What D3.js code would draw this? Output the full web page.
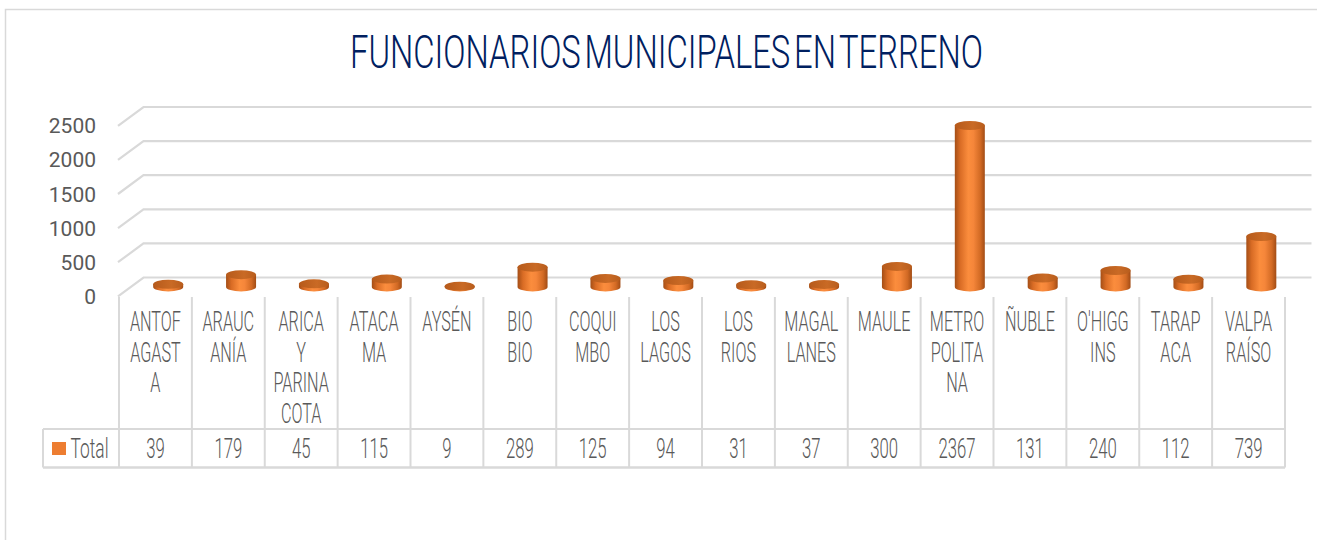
<!DOCTYPE html>
<html>
<head>
<meta charset="utf-8">
<script src="https://cdn.jsdelivr.net/npm/d3@7"></script>
<style>
  body { margin: 0; background: #fff; }
  text { font-family: Roboto, "Liberation Sans", sans-serif; }
</style>
</head>
<body>
<div id="chart"></div>
<script>
// ##################################
// Funcionarios municipales en terreno
// ##################################

// Data
const categories = ["ANTOFAGASTA", "ARAUCANÍA", "ARICA Y PARINACOTA", "ATACAMA", "AYSÉN", "BIO BIO",
    "COQUIMBO", "LOS LAGOS", "LOS RIOS", "MAGALLANES", "MAULE", "METROPOLITANA", "ÑUBLE",
    "O'HIGGINS", "TARAPACA", "VALPARAÍSO"];
// wrapped tick labels as they appear in the data table
const categoryLines = [["ANTOF", "AGAST", "A"], ["ARAUC", "ANÍA"], ["ARICA", "Y", "PARINA", "COTA"],
    ["ATACA", "MA"], ["AYSÉN"], ["BIO", "BIO"], ["COQUI", "MBO"], ["LOS", "LAGOS"], ["LOS", "RIOS"],
    ["MAGAL", "LANES"], ["MAULE"], ["METRO", "POLITA", "NA"], ["ÑUBLE"], ["O'HIGG", "INS"],
    ["TARAP", "ACA"], ["VALPA", "RAÍSO"]];
const values = [39, 179, 45, 115, 9, 289, 125, 94, 31, 37, 300, 2367, 131, 240, 112, 739];
const yTicks = [0, 500, 1000, 1500, 2000, 2500];
const seriesName = "Total";
const title = "FUNCIONARIOS MUNICIPALES EN TERRENO";

// Sizes
const w = 1317;
const h = 540;
const x_left = 119;
const x_right = 1285;
const depth_dx = 25.5;   // 3d depth offset
const depth_dy = -18.8;
const grid = "#d9d9d9";
const textGray = "#595959";
const orange = "#ED7D31";

let svg = d3.select("#chart")
    .append("svg")
    .attr("width", w)
    .attr("height", h);

// chart frame
svg.append("rect")
    .attr("x", 5.5).attr("y", 9.5)
    .attr("width", w + 20).attr("height", h + 20)
    .attr("fill", "#fff")
    .attr("stroke", grid)
    .attr("stroke-width", 1.5);

// Title
svg.append("text")
    .attr("x", 350)
    .attr("y", 68)
    .attr("font-size", 46)
    .attr("font-weight", 300)
    .attr("word-spacing", -6)
    .attr("fill", "#002060")
    .attr("textLength", 633)
    .attr("lengthAdjust", "spacingAndGlyphs")
    .text(title);

// Scales
const xScale = d3.scaleBand()
    .domain(categories)
    .range([x_left, x_right])
    .paddingInner(0)
    .paddingOuter(0);
const bw = xScale.bandwidth();

// front edge of the floor / walls
const yScale = d3.scaleLinear()
    .domain([0, 2500])
    .range([296.3, 125.8]);

// middle depth, where the cylinders stand
const yMid = d3.scaleLinear()
    .domain([0, 2500])
    .range([296.3 + depth_dy / 2, 125.8 + depth_dy / 2]);

// Gridlines (side wall diagonal + back wall)
const gridG = svg.append("g");
yTicks.forEach(t => {
    const yf = yScale(t);
    const pts = [[x_left - 1, yf], [x_left - 1 + depth_dx, yf + depth_dy], [x_right + depth_dx + 1, yf + depth_dy]];
    gridG.append("path")
        .attr("d", d3.line()(pts))
        .attr("fill", "none")
        .attr("stroke", grid)
        .attr("stroke-width", 2.2);
});

// Y axis labels
svg.append("g")
    .selectAll("text")
    .data(yTicks)
    .join("text")
    .attr("x", 96)
    .attr("y", d => yScale(d) + 7.5)
    .attr("text-anchor", "end")
    .attr("font-family", "'Liberation Sans', Arial, sans-serif")
    .attr("font-size", 21)
    .attr("fill", textGray)
    .text(d => d);

// Cylinders
const defs = svg.append("defs");
const grad = defs.append("linearGradient")
    .attr("id", "cylBody")
    .attr("x1", "0%").attr("x2", "100%")
    .attr("y1", "0%").attr("y2", "0%");
[["0%", "#a44e16"], ["18%", "#d96c25"], ["45%", "#fb8d3d"], ["62%", "#f5863a"], ["85%", "#d26a24"], ["100%", "#a24c15"]]
    .forEach(s => grad.append("stop").attr("offset", s[0]).attr("stop-color", s[1]));

const topGrad = defs.append("linearGradient")
    .attr("id", "cylTop")
    .attr("x1", "0%").attr("x2", "100%");
[["0%", "#b65a1b"], ["60%", "#c96a25"], ["100%", "#b85d1d"]]
    .forEach(s => topGrad.append("stop").attr("offset", s[0]).attr("stop-color", s[1]));

const rx = 15;
const ry = 4.5;
const data = categories.map((c, i) => ({cat: c, value: values[i]}));

const cyl = svg.append("g")
    .selectAll("g")
    .data(data)
    .join("g");

cyl.append("path")
    .attr("d", d => {
        const cx = xScale(d.cat) + bw / 2 + depth_dx / 2;
        const yb = yMid(0);
        const yt = yMid(d.value);
        return "M" + (cx - rx) + "," + yt +
            " L" + (cx - rx) + "," + yb +
            " A" + rx + "," + ry + " 0 0 0 " + (cx + rx) + "," + yb +
            " L" + (cx + rx) + "," + yt + " Z";
    })
    .attr("fill", "url(#cylBody)");

cyl.append("ellipse")
    .attr("cx", d => xScale(d.cat) + bw / 2 + depth_dx / 2)
    .attr("cy", d => yMid(d.value))
    .attr("rx", rx)
    .attr("ry", ry)
    .attr("fill", "url(#cylTop)");

// Data table
const table_top = 429;
const table_bottom = 467.5;
const table_left = 43;
const tableG = svg.append("g")
    .attr("stroke", grid)
    .attr("stroke-width", 2);

tableG.append("line")
    .attr("x1", table_left).attr("x2", x_right)
    .attr("y1", table_top).attr("y2", table_top);
tableG.append("line")
    .attr("x1", table_left).attr("x2", x_right)
    .attr("y1", table_bottom).attr("y2", table_bottom)
    .attr("stroke-width", 2.5);
tableG.append("line")
    .attr("x1", table_left).attr("x2", table_left)
    .attr("y1", table_top).attr("y2", table_bottom);
tableG.selectAll(".col")
    .data(categories.map(c => xScale(c)).concat([x_right]))
    .join("line")
    .attr("class", "col")
    .attr("x1", d => d).attr("x2", d => d)
    .attr("y1", 297).attr("y2", table_bottom);

// category labels (condensed look)
const labelG = svg.append("g");
categories.forEach((c, i) => {
    categoryLines[i].forEach((line, j) => {
        labelG.append("text")
            .attr("transform", "translate(" + (xScale(c) + bw / 2) + "," + (330.7 + j * 30.8) + ") scale(0.58,1)")
            .attr("text-anchor", "middle")
            .attr("font-size", 28)
            .attr("font-weight", 300)
            .attr("fill", textGray)
            .text(line);
    });
});

// values row
svg.append("g")
    .selectAll("text")
    .data(data)
    .join("text")
    .attr("transform", d => "translate(" + (xScale(d.cat) + bw / 2) + ",457.7) scale(0.62,1)")
    .attr("text-anchor", "middle")
    .attr("font-size", 27)
    .attr("font-weight", 300)
    .attr("fill", textGray)
    .text(d => d.value);

// legend key + series name
svg.append("rect")
    .attr("x", 52).attr("y", 442)
    .attr("width", 14).attr("height", 13)
    .attr("fill", orange);

svg.append("text")
    .attr("transform", "translate(70.5,457.7) scale(0.62,1)")
    .attr("font-size", 28)
    .attr("font-weight", 300)
    .attr("fill", textGray)
    .text(seriesName);
</script>
</body>
</html>
